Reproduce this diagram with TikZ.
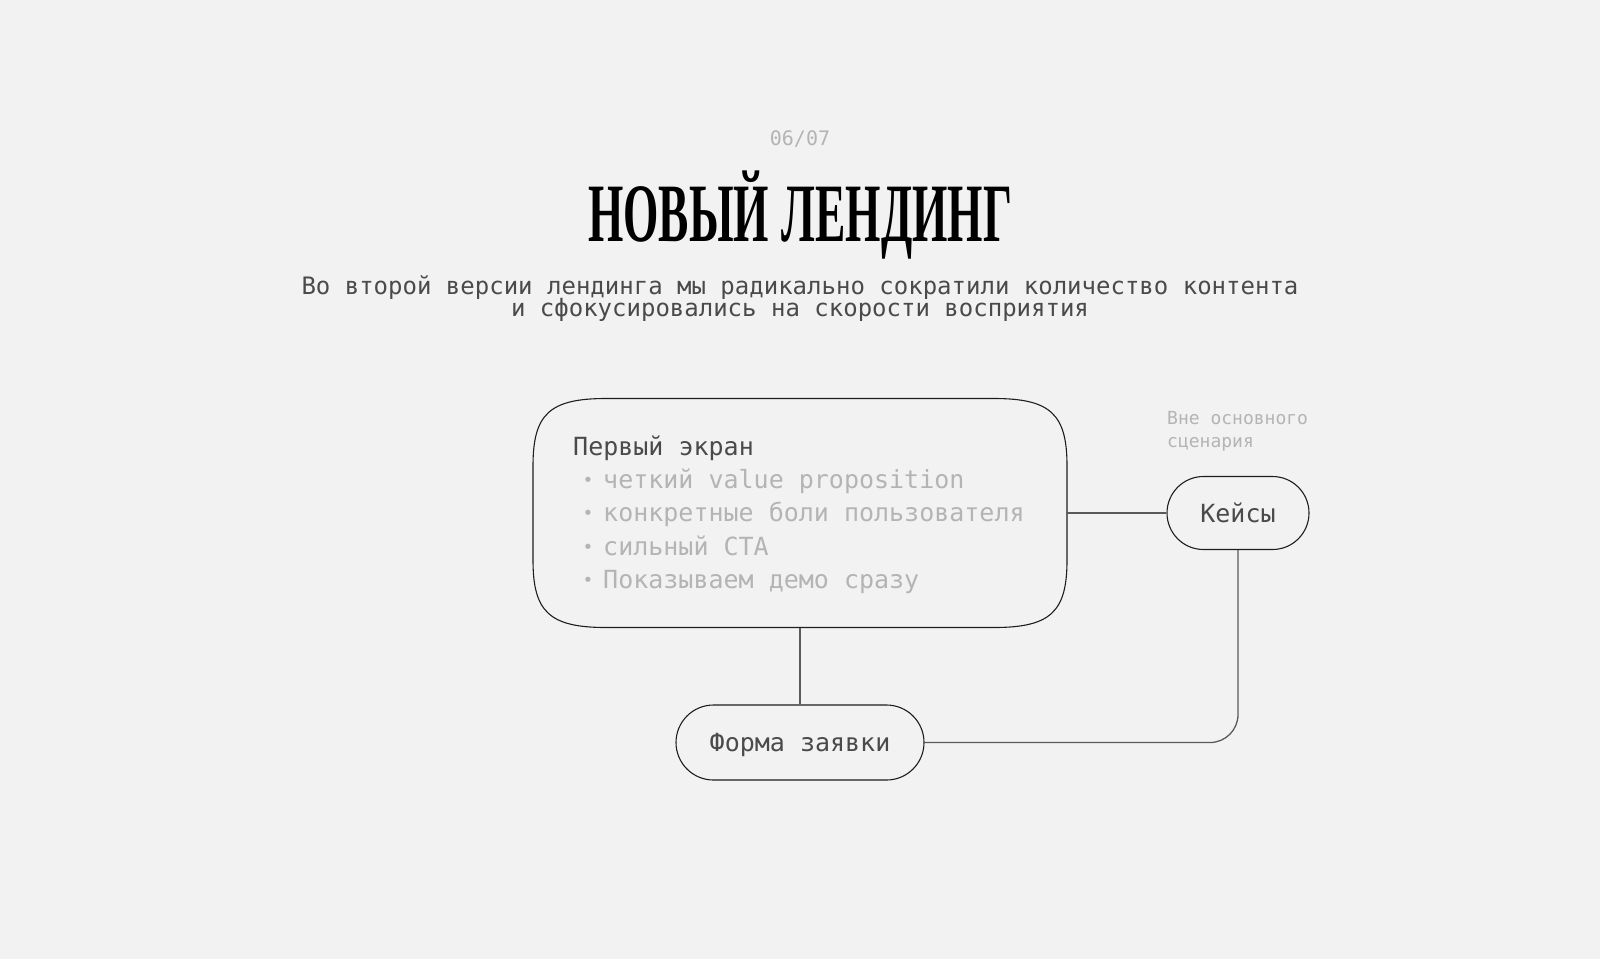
\documentclass[tikz,border=0pt]{standalone}
\usepackage{fontspec}
\setmainfont{Liberation Serif}
\newfontfamily\monof{DejaVu Sans Mono}
\usetikzlibrary{shapes.misc}
\definecolor{bg}{HTML}{F2F2F2}
\definecolor{dark}{HTML}{4A4A4A}
\definecolor{light}{HTML}{B4B4B4}
\definecolor{conn}{HTML}{5A5A5A}
\definecolor{edge}{HTML}{1E1E1E}
\tikzset{
  mono/.style={font=\monof\fontsize{#1}{#1}\selectfont},
  pill/.style={shape=rounded rectangle, draw=edge, line width=1.1pt, text=dark,
    mono=25, text height=18.2pt, text depth=0pt, inner sep=0pt},
  link/.style={draw=conn, line width=1.3pt},
  bullettext/.style={anchor=base west, inner sep=0pt, text=light, mono=25},
  bulletdot/.style={anchor=base, inner sep=0pt, text=light, mono=18},
}
\begin{document}
\begin{tikzpicture}[x=1pt,y=-1pt]
\useasboundingbox[fill=bg] (0,0) rectangle (1600,959);

\node[anchor=base, inner sep=0pt, text=light, mono=20] (num) at (800,145) {06/07};
\node[anchor=base, inner sep=0pt] (title) at (800,241)
  {\resizebox{424pt}{\height}{\fontsize{83}{83}\selectfont\bfseries НОВЫЙ\hspace{0.28em}ЛЕНДИНГ}};
\node[anchor=base, inner sep=0pt, text=dark, mono=24] (sub1) at (800,294)
  {Во второй версии лендинга мы радикально сократили количество контента};
\node[anchor=base, inner sep=0pt, text=dark, mono=24] (sub2) at (800,316.5)
  {и сфокусировались на скорости восприятия};

% main box with squircle-like corners
\draw[draw=edge, line width=1.1pt]
  (606,398.5) -- (994,398.5)
  .. controls (1051,398.5) and (1067,414.5) .. (1067,466)
  -- (1067,560)
  .. controls (1067,611.5) and (1051,627.5) .. (994,627.5)
  -- (606,627.5)
  .. controls (549,627.5) and (533,611.5) .. (533,560)
  -- (533,466)
  .. controls (533,414.5) and (549,398.5) .. (606,398.5) -- cycle;
\node[inner sep=0pt, minimum width=534pt, minimum height=229pt] (main) at (800,513) {};

\node[anchor=base west, inner sep=0pt, text=dark, mono=25] (head) at (573,455) {Первый экран};
\node[bulletdot] (d1) at (588,486.5) {•};
\node[bullettext] (b1) at (603,488.5) {четкий value proposition};
\node[bulletdot] (d2) at (588,519.5) {•};
\node[bullettext] (b2) at (603,521.5) {конкретные боли пользователя};
\node[bulletdot] (d3) at (588,553) {•};
\node[bullettext] (b3) at (603,555) {сильный CTA};
\node[bulletdot] (d4) at (588,586) {•};
\node[bullettext] (b4) at (603,588) {Показываем демо сразу};

\node[anchor=base west, inner sep=0pt, text=light, mono=18] (note1) at (1167,424.5) {Вне основного};
\node[anchor=base west, inner sep=0pt, text=light, mono=18] (note2) at (1167,447) {сценария};

\node[pill, minimum width=142pt, minimum height=73pt] (cases) at (1238,513) {Кейсы};
\node[pill, minimum width=248pt, minimum height=75pt] (form) at (800,742.5) {Форма заявки};

\draw[link] (main.east) -- (cases.west);
\draw[link] (main.south) -- (form.north);
\draw[link, rounded corners=28pt] (form.east) -| (cases.south);
\end{tikzpicture}
\end{document}
